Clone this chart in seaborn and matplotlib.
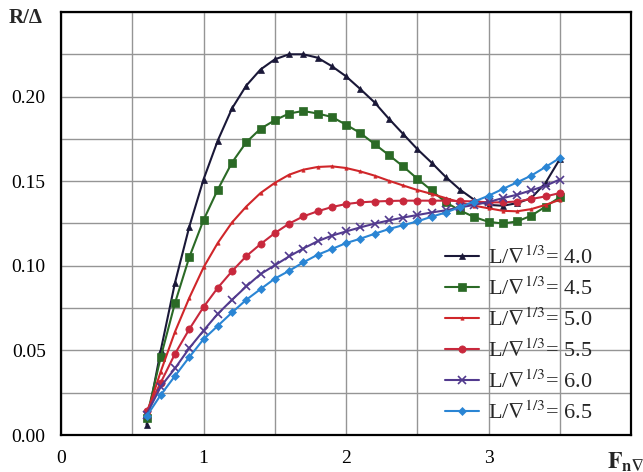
import numpy as np
import pandas as pd
import matplotlib
matplotlib.use("Agg")
import matplotlib.pyplot as plt
import seaborn as sns
from matplotlib.ticker import MultipleLocator, FixedLocator

# ---- data ----
froude = [0.6, 0.7, 0.8, 0.9, 1.0, 1.1, 1.2, 1.3, 1.4, 1.5,
          1.6, 1.7, 1.8, 1.9, 2.0, 2.1, 2.2, 2.3, 2.4, 2.5,
          2.6, 2.7, 2.8, 2.9, 3.0, 3.1, 3.2, 3.3, 3.4, 3.5]

r_40 = [0.006, 0.050, 0.090, 0.123, 0.151, 0.174, 0.193, 0.2065, 0.216, 0.222,
        0.225, 0.225, 0.223, 0.218, 0.212, 0.2045, 0.1966, 0.187, 0.178, 0.169,
        0.161, 0.1525, 0.145, 0.139, 0.136, 0.1355, 0.137, 0.140, 0.149, 0.163]
r_45 = [0.010, 0.046, 0.078, 0.105, 0.127, 0.145, 0.161, 0.173, 0.181, 0.186,
        0.190, 0.1915, 0.190, 0.188, 0.1834, 0.1785, 0.172, 0.1655, 0.1588, 0.1515,
        0.1446, 0.1375, 0.1327, 0.1288, 0.1260, 0.1250, 0.1262, 0.1296, 0.1350, 0.1405]
r_50 = [0.012, 0.0375, 0.061, 0.081, 0.099, 0.1135, 0.1256, 0.135, 0.143, 0.149,
        0.1538, 0.1568, 0.1584, 0.1588, 0.1578, 0.1558, 0.1533, 0.1503, 0.1475, 0.1448,
        0.1425, 0.140, 0.1375, 0.1355, 0.134, 0.1325, 0.1322, 0.1335, 0.136, 0.139]
r_55 = [0.014, 0.031, 0.048, 0.0625, 0.0756, 0.087, 0.0968, 0.1057, 0.1128, 0.1193,
        0.1249, 0.1292, 0.1322, 0.1347, 0.1365, 0.1375, 0.138, 0.1383, 0.1385, 0.1385,
        0.1385, 0.1385, 0.1383, 0.138, 0.1375, 0.1375, 0.138, 0.1395, 0.141, 0.143]
r_60 = [0.012, 0.0286, 0.0394, 0.0513, 0.0617, 0.0716, 0.0799, 0.0878, 0.0951, 0.1003,
        0.1055, 0.1102, 0.1145, 0.1178, 0.1203, 0.1227, 0.1249, 0.1268, 0.1285, 0.1300,
        0.1315, 0.1328, 0.1345, 0.136, 0.1377, 0.140, 0.142, 0.1446, 0.1473, 0.151]
r_65 = [0.011, 0.0237, 0.0349, 0.046, 0.0566, 0.0645, 0.0724, 0.0799, 0.0862, 0.0924,
        0.0970, 0.1020, 0.1065, 0.1099, 0.1134, 0.116, 0.1189, 0.1217, 0.1240, 0.1262,
        0.1290, 0.1315, 0.1347, 0.138, 0.1414, 0.1454, 0.1493, 0.1533, 0.1584, 0.1637]

ratios = ["4.0", "4.5", "5.0", "5.5", "6.0", "6.5"]
series = [r_40, r_45, r_50, r_55, r_60, r_65]

x_ticks = [0, 1, 2, 3, 4]
x_labels = ["0", "1", "2", "3", ""]
y_ticks = [0.00, 0.05, 0.10, 0.15, 0.20, 0.25]
y_labels = ["0.00", "0.05", "0.10", "0.15", "0.20", ""]

# ---- styles ----
colors = ["#1a1838", "#2b6a26", "#d0262a", "#c8283c", "#523a8e", "#2a85d4"]
markers = ["^", "s", "^", "o", "x", "D"]
msizes = [4.5, 5.4, 2.4, 5.2, 5.5, 3.6]

sns.set_theme(style="white")
plt.rcParams["font.family"] = ["Liberation Serif", "DejaVu Serif"]
plt.rcParams["mathtext.fontset"] = "stix"

fig = plt.figure(figsize=(6.43, 4.72), dpi=100)
ax = fig.add_axes([61 / 643, 37 / 472, 570 / 643, 423 / 472])

frames = []
for r, vals in zip(ratios, series):
    frames.append(pd.DataFrame({"Fn": froude, "R": vals, "ratio": r}))
df = pd.concat(frames, ignore_index=True)

for r, c, m, ms in zip(ratios, colors, markers, msizes):
    sub = df[df["ratio"] == r]
    sns.lineplot(data=sub, x="Fn", y="R", ax=ax, color=c, marker=m,
                 markersize=ms, markeredgecolor=c, markerfacecolor=c,
                 markeredgewidth=1.2 if m == "x" else 0.5, linewidth=1.5,
                 label=r"L/$\nabla^{\mathrm{1/3}}$= " + r, sort=False)

ax.set_xlim(0, 4)
ax.set_ylim(0, 0.25)
ax.xaxis.set_major_locator(FixedLocator(x_ticks))
ax.set_xticklabels(x_labels)
ax.yaxis.set_major_locator(FixedLocator(y_ticks))
ax.set_yticklabels(y_labels)
ax.xaxis.set_minor_locator(MultipleLocator(0.5))
ax.yaxis.set_minor_locator(MultipleLocator(0.025))
ax.grid(True, which="both", color="#959595", linewidth=1.0)
ax.set_axisbelow(True)
ax.tick_params(axis="both", which="major", labelsize=14, length=5, width=1.3,
               direction="out", colors="black", pad=6)
ax.tick_params(axis="both", which="minor", length=0)
for s in ax.spines.values():
    s.set_color("black")
    s.set_linewidth(1.6)
ax.set_xlabel("")
ax.set_ylabel("")

leg = ax.legend(loc="lower left", bbox_to_anchor=(0.655, 0.0), frameon=False,
                fontsize=16, handlelength=1.5, handletextpad=0.4,
                labelspacing=0.38, borderaxespad=0.1)

fig.text(9 / 643, 1 - 18 / 472, "R/Δ", fontsize=15, fontweight="bold",
         ha="left", va="center")
fig.text(607 / 643, 1 - 462 / 472, r"$\mathbf{F}_{\mathbf{n\nabla}}$",
         fontsize=17, ha="left", va="center")

fig.savefig("out.png", dpi=100)
